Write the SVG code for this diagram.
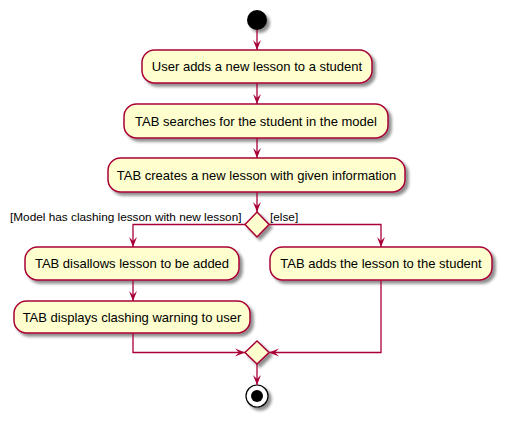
<svg xmlns="http://www.w3.org/2000/svg" width="508" height="422" viewBox="0 0 508 422">
<defs>
<filter id="sh" x="-20%" y="-20%" width="150%" height="160%">
<feGaussianBlur in="SourceAlpha" stdDeviation="1.7"/>
<feOffset dx="3" dy="3" result="b"/>
<feComponentTransfer><feFuncA type="linear" slope="0.45"/></feComponentTransfer>
<feMerge><feMergeNode/><feMergeNode in="SourceGraphic"/></feMerge>
</filter>
<marker id="ah" viewBox="0 0 10 10" refX="10" refY="5" markerWidth="10" markerHeight="10" markerUnits="userSpaceOnUse" orient="auto">
<path d="M0,1 L10,5 L0,9 L4,5 Z" fill="#A80036"/>
</marker>
</defs>
<style>
.box{fill:#FEFECE;stroke:#A80036;stroke-width:1.5;filter:url(#sh)}
.dia{fill:#FEFECE;stroke:#A80036;stroke-width:1.5;filter:url(#sh)}
.t{font-family:"Liberation Sans",Arial,sans-serif;font-size:13px;fill:#000;text-anchor:middle}
.l{font-family:"Liberation Sans",Arial,sans-serif;font-size:11.8px;fill:#000}
.c{fill:none;stroke:#A80036;stroke-width:1.3;marker-end:url(#ah)}
</style>
<g id="start"><circle cx="257" cy="20" r="10" fill="#000" filter="url(#sh)"/></g>
<g id="n1"><rect class="box" x="142" y="50" width="230" height="33" rx="12.5"/><text class="t" x="257" y="71">User adds a new lesson to a student</text></g>
<g id="n2"><rect class="box" x="124" y="104" width="264" height="34" rx="12.5"/><text class="t" x="256" y="125.5">TAB searches for the student in the model</text></g>
<g id="n3"><rect class="box" x="108" y="158" width="297" height="34" rx="12.5"/><text class="t" x="256.5" y="179.5">TAB creates a new lesson with given information</text></g>
<g id="d1"><polygon class="dia" points="257,212 269,224.5 257,237 245,224.5"/></g>
<g id="n4"><rect class="box" x="25" y="247" width="214" height="33" rx="12.5"/><text class="t" x="132" y="268">TAB disallows lesson to be added</text></g>
<g id="n5"><rect class="box" x="270" y="247" width="222" height="33" rx="12.5"/><text class="t" x="381" y="268">TAB adds the lesson to the student</text></g>
<g id="n6"><rect class="box" x="14" y="301" width="236" height="32" rx="12.5"/><text class="t" x="132" y="321.5">TAB displays clashing warning to user</text></g>
<g id="d2"><polygon class="dia" points="257,341 269,352.5 257,364 245,352.5"/></g>
<g id="end"><circle cx="257" cy="396" r="11" fill="#fff" stroke="#000" stroke-width="1.2" filter="url(#sh)"/><circle cx="257" cy="396" r="6" fill="#000"/></g>
<g id="connectors">
<line class="c" x1="257" y1="30" x2="257" y2="50"/>
<line class="c" x1="257" y1="83" x2="257" y2="104"/>
<line class="c" x1="257" y1="138" x2="257" y2="158"/>
<line class="c" x1="257" y1="192" x2="257" y2="212"/>
<polyline class="c" points="245,224.5 133,224.5 133,247"/>
<polyline class="c" points="269,224.5 381,224.5 381,247"/>
<line class="c" x1="133" y1="280" x2="133" y2="301"/>
<polyline class="c" points="133,333 133,352.5 245,352.5"/>
<polyline class="c" points="381,280 381,352.5 269,352.5"/>
<line class="c" x1="257" y1="364" x2="257" y2="385"/>
<text class="l" x="10" y="221">[Model has clashing lesson with new lesson]</text>
<text class="l" x="270" y="221">[else]</text>
</g>
</svg>
